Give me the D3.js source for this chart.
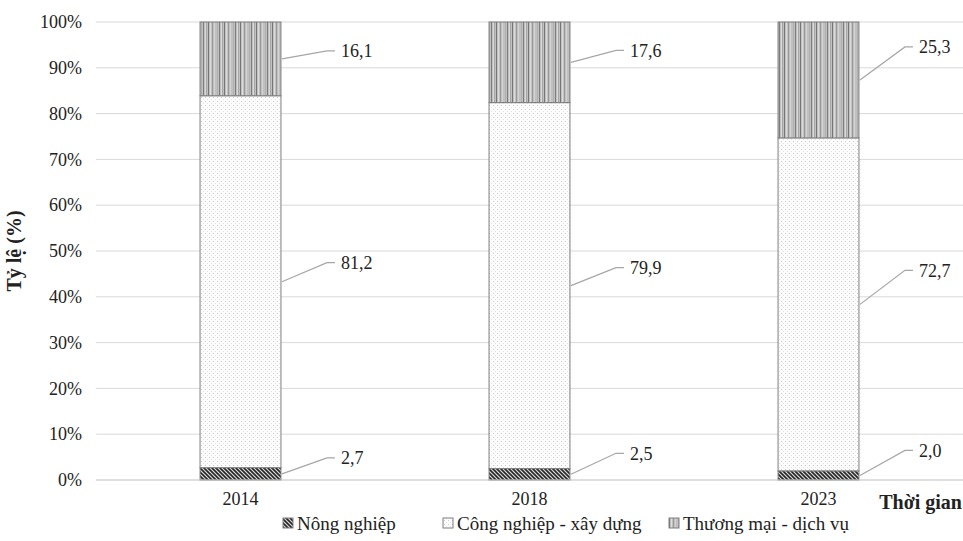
<!DOCTYPE html>
<html>
<head>
<meta charset="utf-8">
<script src="https://cdn.jsdelivr.net/npm/d3@7/dist/d3.min.js"></script>
<style>
  html, body { margin: 0; padding: 0; background: #fff; }
  svg { display: block; }
  svg text { font-family: "Liberation Serif", serif; }
</style>
</head>
<body>
<svg id="chart" width="963" height="541"></svg>
<script>
// Cơ cấu kinh tế theo thời gian (%)
const years = ["2014", "2018", "2023"];
const seriesNames = ["Nông nghiệp", "Công nghiệp - xây dựng", "Thương mại - dịch vụ"];
const nongNghiep = [2.7, 2.5, 2.0];
const congNghiep = [81.2, 79.9, 72.7];
const thuongMai = [16.1, 17.6, 25.3];
const yTicks = [0, 10, 20, 30, 40, 50, 60, 70, 80, 90, 100];

const FONT = "Liberation Serif, serif";
const svg = d3.select("#chart");
const margin = { top: 22, right: 0, bottom: 61, left: 96 };
const W = 963, H = 541;

const x = d3.scaleBand().domain(years).range([margin.left, W - margin.right]).paddingInner(0.72).paddingOuter(0.36);
const y = d3.scaleLinear().domain([0, 100]).range([H - margin.bottom, margin.top]);

// fill patterns
const defs = svg.append("defs");
const hatch = defs.append("pattern").attr("id", "p-hatch").attr("patternUnits", "userSpaceOnUse")
  .attr("width", 4).attr("height", 4);
hatch.append("rect").attr("width", 4).attr("height", 4).attr("fill", "#dcdcdc");
hatch.append("path").attr("d", "M-1,-1 L5,5 M-1,3 L1,5 M3,-1 L5,1")
  .attr("stroke", "#262626").attr("stroke-width", 1.6);

const dots = defs.append("pattern").attr("id", "p-dots").attr("patternUnits", "userSpaceOnUse")
  .attr("width", 4).attr("height", 4);
dots.append("rect").attr("width", 4).attr("height", 4).attr("fill", "#fcfcfc");
dots.append("rect").attr("x", 1).attr("y", 1).attr("width", 1).attr("height", 1).attr("fill", "#c8c8c8");
dots.append("rect").attr("x", 3).attr("y", 3).attr("width", 1).attr("height", 1).attr("fill", "#e0e0e0");

const stripes = defs.append("pattern").attr("id", "p-stripes").attr("patternUnits", "userSpaceOnUse")
  .attr("width", 16).attr("height", 4);
stripes.append("rect").attr("width", 16).attr("height", 4).attr("fill", "#c0c0c0");
[[0, "#767676"], [2, "#dedede"], [4, "#9a9a9a"], [6, "#d2d2d2"], [9, "#b0b0b0"], [11, "#7c7c7c"], [13, "#dadada"], [14, "#a6a6a6"]]
  .forEach(([sx, c]) => stripes.append("rect").attr("x", sx).attr("y", 0).attr("width", 1).attr("height", 4).attr("fill", c));

const fills = ["url(#p-hatch)", "url(#p-dots)", "url(#p-stripes)"];

// gridlines
svg.append("g").selectAll("line").data(yTicks.filter(d => d > 0)).join("line")
  .attr("x1", margin.left).attr("x2", W - margin.right)
  .attr("y1", d => y(d)).attr("y2", d => y(d))
  .attr("stroke", "#d9d9d9").attr("stroke-width", 1);

// y axis labels
const yAxis = d3.axisLeft(y).tickValues(yTicks).tickSize(0).tickPadding(14).tickFormat(d => d + "%");
const gy = svg.append("g").attr("transform", `translate(${margin.left},0)`).call(yAxis);
gy.attr("font-family", FONT);
gy.select(".domain").remove();
gy.selectAll("text").attr("font-size", 18).attr("fill", "#222");

// stacked data
const rows = years.map((yr, i) => ({ year: yr, s0: nongNghiep[i], s1: congNghiep[i], s2: thuongMai[i] }));
const stack = d3.stack().keys(["s0", "s1", "s2"])(rows);

const gBars = svg.append("g");
stack.forEach((layer, li) => {
  gBars.append("g").selectAll("rect").data(layer).join("rect")
    .attr("x", d => x(d.data.year))
    .attr("width", x.bandwidth())
    .attr("y", d => y(d[1]))
    .attr("height", d => y(d[0]) - y(d[1]))
    .attr("fill", fills[li])
    .attr("stroke", "#7f7f7f").attr("stroke-width", 1);
});

// baseline
svg.append("line").attr("x1", margin.left).attr("x2", W - margin.right)
  .attr("y1", y(0)).attr("y2", y(0)).attr("stroke", "#bfbfbf").attr("stroke-width", 1);

// x axis labels
const xAxis = d3.axisBottom(x).tickSize(0).tickPadding(12);
const gx = svg.append("g").attr("transform", `translate(0,${y(0)})`).call(xAxis);
gx.attr("font-family", FONT);
gx.select(".domain").remove();
gx.selectAll("text").attr("font-size", 18).attr("fill", "#222");

// data labels with leader lines (vertical nudge per bar, in pixels)
const labelLift = [[-16, -19, -8], [-21, -18, -12], [-25, -34, -33]];
const gLab = svg.append("g").attr("font-family", FONT);
stack.forEach((layer, li) => {
  layer.forEach((d, bi) => {
    const x0 = x(d.data.year) + x.bandwidth() + 1;
    const y0 = y((d[0] + d[1]) / 2);
    const y1 = y0 + labelLift[bi][li];
    const x1 = x0 + 45;
    gLab.append("path")
      .attr("d", `M${x0},${y0} L${x1},${y1} L${x1 + 8},${y1}`)
      .attr("fill", "none").attr("stroke", "#a6a6a6").attr("stroke-width", 1.2);
    gLab.append("text")
      .attr("x", x1 + 14).attr("y", y1).attr("dy", "0.35em")
      .attr("font-family", FONT)
      .attr("font-size", 18).attr("fill", "#222")
      .text(d3.format(".1f")(d[1] - d[0]).replace(".", ","));
  });
});

// axis titles
svg.append("text").attr("transform", `translate(21,${(y(0) + y(100)) / 2}) rotate(-90)`)
  .attr("text-anchor", "middle").attr("font-family", FONT).attr("font-size", 20)
  .attr("font-weight", "bold").attr("fill", "#222")
  .text("Tỷ lệ (%)");
svg.append("text").attr("x", W - 1).attr("y", y(0) + 29).attr("text-anchor", "end")
  .attr("font-family", FONT).attr("font-size", 20).attr("font-weight", "bold").attr("fill", "#222")
  .text("Thời gian");

// legend
const legendX = [283, 443, 669];
const gLeg = svg.append("g").attr("transform", `translate(0,${H - 18})`);
seriesNames.forEach((name, i) => {
  const g = gLeg.append("g").attr("transform", `translate(${legendX[i]},0)`);
  g.append("rect").attr("x", 0).attr("y", -5).attr("width", 10).attr("height", 10)
    .attr("fill", fills[i]).attr("stroke", "#7f7f7f").attr("stroke-width", 1);
  g.append("text").attr("x", 14).attr("y", 0).attr("dy", "0.35em")
    .attr("font-family", FONT).attr("font-size", 19).attr("fill", "#222").text(name);
});
</script>
</body>
</html>
